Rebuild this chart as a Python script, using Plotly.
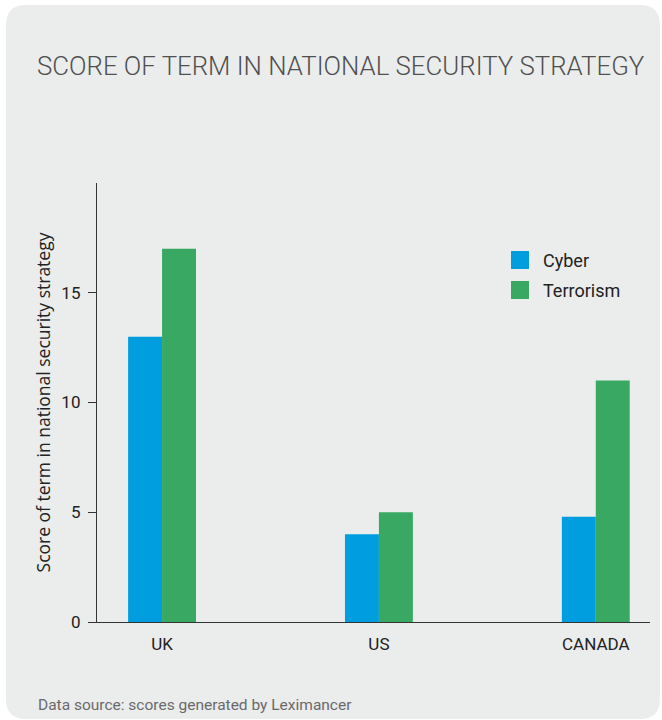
import plotly.graph_objects as go

categories = ["UK", "US", "CANADA"]
series_names = ["Cyber", "Terrorism"]
cyber = [13, 4, 4.8]
terrorism = [17, 5, 11]
y_ticks = [0, 5, 10, 15]

colors = ["#009DDF", "#38A862"]

W, H = 662, 720
L, R, T, B = 97, 12, 183, 98
pw, ph = W - L - R, H - T - B

def px(x):
    return (x - L) / pw

def py(y):
    return (H - B - y) / ph

fig = go.Figure()
for name, vals, col in zip(series_names, [cyber, terrorism], colors):
    fig.add_trace(go.Bar(x=categories, y=vals, name=name, marker=dict(color=col, line=dict(width=0)),
                         showlegend=False))

# rounded background panel
x0, x1, y0, y1, r = 6, 660, 5, 719, 20
path = (f"M {px(x0+r)},{py(y0)} L {px(x1-r)},{py(y0)} Q {px(x1)},{py(y0)} {px(x1)},{py(y0+r)} "
        f"L {px(x1)},{py(y1-r)} Q {px(x1)},{py(y1)} {px(x1-r)},{py(y1)} "
        f"L {px(x0+r)},{py(y1)} Q {px(x0)},{py(y1)} {px(x0)},{py(y1-r)} "
        f"L {px(x0)},{py(y0+r)} Q {px(x0)},{py(y0)} {px(x0+r)},{py(y0)} Z")
shapes = [dict(type="path", path=path, xref="paper", yref="paper", fillcolor="#EBECEC",
               line=dict(width=0), layer="below")]

annotations = []
# manual legend
for i, (name, col) in enumerate(zip(series_names, colors)):
    cy = 260 + 30 * i
    shapes.append(dict(type="rect", xref="paper", yref="paper", x0=px(511), x1=px(529),
                       y0=py(cy - 9), y1=py(cy + 9), fillcolor=col, line=dict(width=0)))
    annotations.append(dict(text=name, xref="paper", yref="paper", x=px(541), y=py(cy),
                            xanchor="left", yanchor="middle", showarrow=False,
                            font=dict(family="Roboto", size=18, color="#222222")))

annotations.append(dict(text="SCORE OF TERM IN NATIONAL SECURITY STRATEGY", xref="paper", yref="paper",
                        x=px(35), y=py(66), xanchor="left", yanchor="middle", showarrow=False,
                        font=dict(family="Roboto", size=25.8, color="#505050", weight=300)))
annotations.append(dict(text="Data source: scores generated by Leximancer", xref="paper", yref="paper",
                        x=px(36), y=py(705), xanchor="left", yanchor="middle", showarrow=False,
                        font=dict(family="Roboto", size=15.5, color="#6A6A6A")))

fig.update_layout(
    width=W, height=H,
    margin=dict(l=L, r=R, t=T, b=B),
    paper_bgcolor="white", plot_bgcolor="rgba(0,0,0,0)",
    barmode="group", bargap=0.687, bargroupgap=0,
    shapes=shapes, annotations=annotations,
    font=dict(family="Roboto", color="#222222"),
    xaxis=dict(range=[-0.3, 2.25], showline=True, linecolor="#333333", linewidth=1.3,
               ticks="", showgrid=False, zeroline=False,
               tickfont=dict(size=17, color="#222222"), ticklabelstandoff=6),
    yaxis=dict(range=[0, 20], tickvals=y_ticks, showline=True, linecolor="#333333", linewidth=1.3,
               ticks="outside", ticklen=8, tickcolor="#333333", tickwidth=1.3,
               showgrid=False, zeroline=False, ticklabelstandoff=4,
               tickfont=dict(size=17, color="#222222"),
               title=dict(text="Score of term in national security strategy", standoff=6,
                          font=dict(family="Open Sans", size=17.5, color="#222222"))),
)

fig.write_html("out.html", config={"displayModeBar": False},
               post_script="document.body.style.margin='0px';")
